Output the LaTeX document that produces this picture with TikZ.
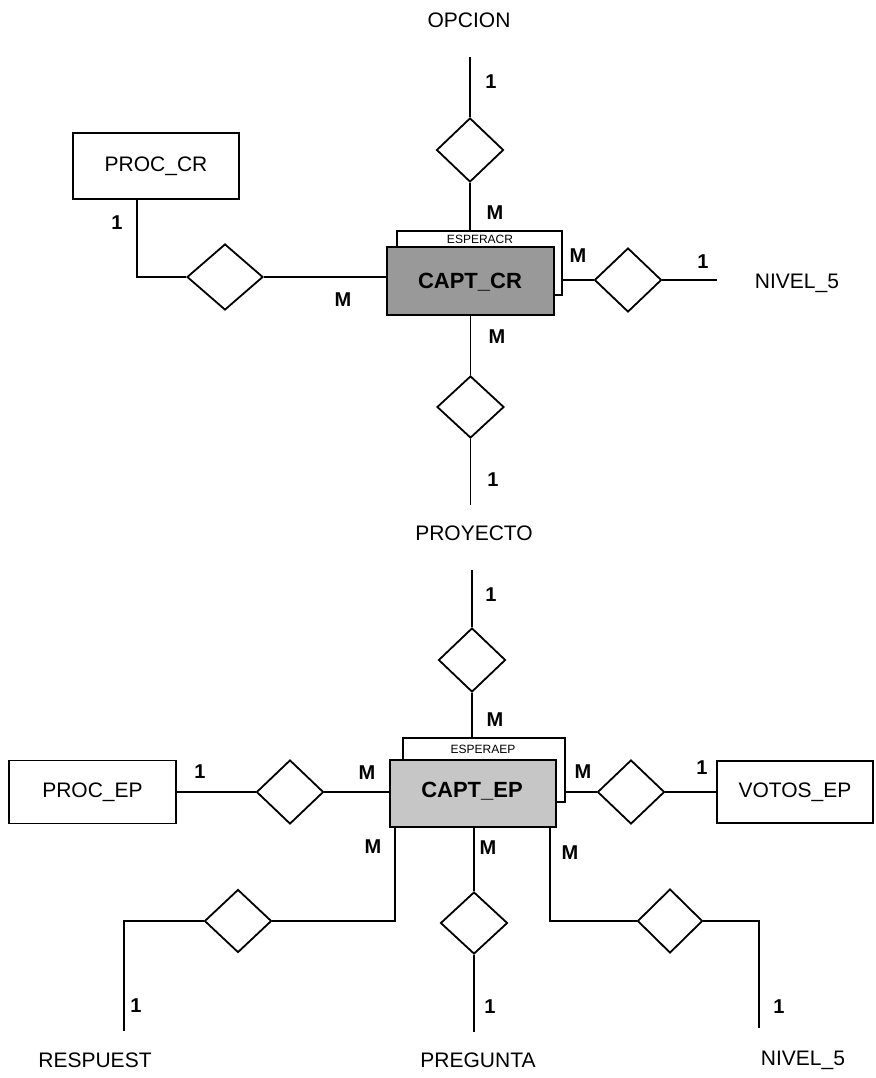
\documentclass[tikz,border=0pt]{standalone}
\usepackage{fontspec}
\setmainfont{Liberation Sans}
\usetikzlibrary{shapes.geometric}
\begin{document}
\begin{tikzpicture}[x=1pt,y=-1pt,
  line width=1.4pt,
  rel/.style={draw, diamond, inner sep=0pt, minimum width=67pt, minimum height=64pt, line width=1.8pt},
  ent/.style={draw, rectangle, inner sep=0pt, line width=1.3pt, font=\fontsize{21}{21}\selectfont},
  back/.style={draw, rectangle, inner sep=0pt, line width=1.3pt, fill=white},
  front/.style={draw, rectangle, inner sep=0pt, line width=1.8pt},
  lbl/.style={font=\fontsize{21}{21}\selectfont, inner sep=0pt},
  card/.style={font=\bfseries\fontsize{20}{20}\selectfont, inner sep=0pt},
  smalltxt/.style={font=\fontsize{12}{12}\selectfont, inner sep=0pt},
  ctxt/.style={font=\bfseries\fontsize{22}{22}\selectfont, inner sep=0pt}
]
\fill[white] (0,0) rectangle (875,1078);
\useasboundingbox (0,0) rectangle (875,1078);

% ---------- upper diagram ----------
\node[lbl] (opcion) at (469,20) {OPCION};
\coordinate (opc) at (470,57);
\node[rel] (d1) at (470,150) {};
\node[back, minimum width=165pt, minimum height=64pt] (espcr) at (479.5,263) {};
\node[front, fill=gray!80, minimum width=167pt, minimum height=68pt] (captcr) at (470.5,281) {};
\node[smalltxt] (tespcr) at (480,239) {ESPERACR};
\node[ctxt] (tcaptcr) at (470,282) {CAPT\_CR};
\draw (opc) -- (d1.north);
\draw (d1.south) -- (d1.south |- espcr.north);

\node[rel, minimum height=62pt] (d2) at (470.5,407) {};
\coordinate (proy) at (470.5,505);
\draw (captcr.south) -- (d2.north);
\draw (d2.south) -- (proy);
\node[lbl] (proyecto) at (474,533) {PROYECTO};

\node[rel] (d3) at (628,280) {};
\coordinate (n5a) at (717,280);
\draw (d3.west) -- (d3.west -| espcr.east);
\draw (d3.east) -- (n5a);
\node[lbl] (nivel5a) at (797,283) {NIVEL\_5};

\node[ent, minimum width=166pt, minimum height=66pt] (proccr) at (156,166) {PROC\_CR};
\node[rel, minimum width=76pt, minimum height=66pt] (d4) at (225,277) {};
\coordinate (c4) at (137,277);
\draw (d4.east) -- (d4.east -| captcr.west);
\draw (d4.west) -- (c4) -- (c4 |- proccr.south);

\node[card] (k1) at (491,82) {1};
\node[card] (k2) at (495,213) {M};
\node[card] (k3) at (497,337) {M};
\node[card] (k4) at (493,480) {1};
\node[card] (k5) at (117,223) {1};
\node[card] (k6) at (343,300) {M};
\node[card] (k7) at (578,256) {M};
\node[card] (k8) at (703,262) {1};

% ---------- lower diagram ----------
\coordinate (proyb) at (472,570);
\node[rel] (d5) at (472,660) {};
\node[back, minimum width=162pt, minimum height=64pt] (espep) at (484,770) {};
\node[front, fill=gray!45, minimum width=166pt, minimum height=67pt] (captep) at (473,793.5) {};
\node[smalltxt] (tespep) at (483,749) {ESPERAEP};
\node[ctxt] (tcaptep) at (472,791) {CAPT\_EP};
\draw (proyb) -- (d5.north);
\draw (d5.south) -- (d5.south |- espep.north);

\node[ent, minimum width=167pt, minimum height=63pt] (procep) at (92.5,792) {PROC\_EP};
\node[rel] (d6) at (290,792) {};
\draw (procep.east) -- (d6.west);
\draw (d6.east) -- (d6.east -| captep.west);

\node[rel] (d7) at (631,792) {};
\node[ent, minimum width=156pt, minimum height=62pt] (votos) at (795,792) {VOTOS\_EP};
\draw (d7.west) -- (d7.west -| espep.east);
\draw (d7.east) -- (votos.west);

% left branch
\coordinate (bl) at (395,921);
\node[rel, minimum height=63pt] (d8) at (238,921) {};
\coordinate (bl2) at (124,921);
\coordinate (bl3) at (124,1031);
\draw (bl |- captep.south) -- (bl) -- (d8.east);
\draw (d8.west) -- (bl2) -- (bl3);
\node[lbl] (resp) at (95,1060) {RESPUEST};

% middle branch
\node[rel, minimum height=62pt] (d9) at (474,923) {};
\coordinate (bm) at (474,1032);
\draw (d9.north |- captep.south) -- (d9.north);
\draw (d9.south) -- (bm);
\node[lbl] (preg) at (478,1060) {PREGUNTA};

% right branch
\coordinate (br) at (550,921);
\node[rel, minimum width=65pt] (d10) at (670,921) {};
\coordinate (br2) at (759,921);
\coordinate (br3) at (759,1028);
\draw (br |- captep.south) -- (br) -- (d10.west);
\draw (d10.east) -- (br2) -- (br3);
\node[lbl] (niv5b) at (803,1060) {NIVEL\_5};

\node[card] (k9) at (491,595) {1};
\node[card] (k10) at (495,720) {M};
\node[card] (k11) at (200,772) {1};
\node[card] (k12) at (367,773) {M};
\node[card] (k13) at (583,772) {M};
\node[card] (k14) at (702,768) {1};
\node[card] (k15) at (373,847) {M};
\node[card] (k16) at (488,848) {M};
\node[card] (k17) at (570,853) {M};
\node[card] (k18) at (136,1006) {1};
\node[card] (k19) at (490,1007) {1};
\node[card] (k20) at (779,1007) {1};
\end{tikzpicture}
\end{document}
